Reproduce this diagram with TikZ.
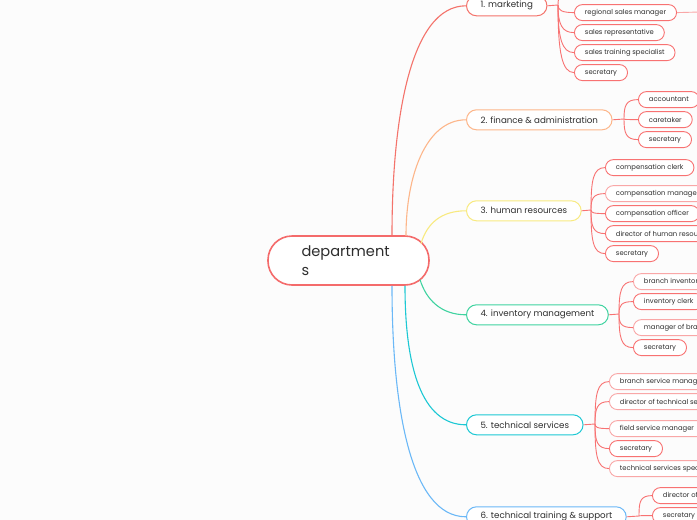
\documentclass[tikz,border=0pt]{standalone}
\usepackage{fontspec}
\setmainfont{Poppins}
\usetikzlibrary{calc}

\definecolor{rootred}{HTML}{F46B6B}
\definecolor{leafred}{HTML}{F87272}
\definecolor{leafpink}{HTML}{F9A7A7}
\definecolor{mktcol}{HTML}{F4736B}
\definecolor{fincol}{HTML}{FDB68A}
\definecolor{hrcol}{HTML}{F8EA80}
\definecolor{invcol}{HTML}{3FD3A0}
\definecolor{techcol}{HTML}{1CC8D4}
\definecolor{traincol}{HTML}{6BB8F7}
\definecolor{inkgrey}{HTML}{2E2E2E}

\begin{document}
\begin{tikzpicture}[
    x=1pt, y=-1pt, % pixel grid, y downwards
    root/.style={draw=rootred, line width=1.6pt, rounded corners=24pt,
        minimum width=161pt, minimum height=49pt, fill=white, inner sep=0pt,
        text width=94pt, align=left, text=inkgrey,
        font=\fontsize{14.6}{19.5}\selectfont},
    topic/.style={draw=#1, line width=1pt, rounded corners=10pt,
        minimum height=20pt, inner xsep=14pt, inner ysep=0pt, fill=white,
        anchor=west, text=inkgrey, yshift=-0.8pt,
        font=\fontsize{8.7}{9}\selectfont},
    leaf/.style={draw=leafred, line width=0.9pt, rounded corners=8pt,
        minimum height=16pt, inner xsep=10.5pt, inner ysep=0pt, fill=white,
        anchor=west, text=inkgrey, yshift=-0.6pt,
        font=\fontsize{6.8}{7}\selectfont},
    faded/.style={draw=leafpink},
    branch/.style={draw=#1, line width=1.1pt},
    twig/.style={draw=leafred, line width=0.9pt},
    twigto/.style={to path={.. controls
        ($(\tikztostart)!0.7!(\tikztostart |- \tikztotarget)$) and
        ($(\tikztotarget)+(-12,0)$) .. (\tikztotarget)}}
]

\useasboundingbox (0,0) rectangle (697,520);
\clip (0,0) rectangle (697,520);
\fill[white!99!black] (0,0) rectangle (697,520);

% ========== root ==========
\node[root] (root) at (348.5,260.5) {department\\s};

% ========== main topics ==========
\node[topic=mktcol]   (mkt)   at (466,5)   {1. marketing};
\node[topic=fincol]   (fin)   at (466,119) {2. finance \& administration};
\node[topic=hrcol]    (hr)    at (466,210) {3. human resources};
\node[topic=invcol]   (inv)   at (466,314) {4. inventory management};
\node[topic=techcol]  (tech)  at (466,424) {5. technical services};
\node[topic=traincol] (train) at (466,516) {6. technical training \& support};

% start points on the root border
\coordinate (s1) at ($(root.north)+(43.5,0)$);
\coordinate (s2) at ($(root.north)+(57.5,0.5)$);
\coordinate (s3) at ($(root.center)+(72.5,-17)$);
\coordinate (s4) at ($(root.center)+(71.5,19)$);
\coordinate (s5) at ($(root.south)+(56.5,0)$);
\coordinate (s6) at ($(root.south)+(43.5,0)$);

\draw[branch=mktcol]   (s1) .. controls +(0,-115) and +(-56,0) .. (mkt.west);
\draw[branch=fincol]   (s2) .. controls +(0,-60) and +(-40,0) .. (fin.west);
\draw[branch=hrcol]    (s3) .. controls +(6,-20) and +(-25,0) .. (hr.west);
\draw[branch=invcol]   (s4) .. controls +(6,20) and +(-25,0) .. (inv.west);
\draw[branch=techcol]  (s5) .. controls +(0,80) and +(-45,0) .. (tech.west);
\draw[branch=traincol] (s6) .. controls +(0,120) and +(-56,0) .. (train.west);

% ========== marketing ==========
\coordinate (mktfork) at (558,5);
\coordinate (mktup) at (574,-10);
\node[leaf] (mkt1) at (574,12) {regional sales manager};
\node[leaf] (mkt2) at (574,32) {sales representative};
\node[leaf] (mkt3) at (574,52) {sales training specialist};
\node[leaf] (mkt4) at (574,72) {secretary};
\coordinate (mktout) at (700,12);
\draw[twig] (mkt.east) -- (mktfork);
\foreach \n in {mktup,mkt1.west,mkt2.west,mkt3.west,mkt4.west}
    \draw[twig] (mktfork) to[twigto] (\n);
\draw[twig, draw=leafpink] (mkt1.east) -- (mktout);

% ========== finance & administration ==========
\coordinate (finfork) at (624,119);
\node[leaf] (fin1) at (638,99)  {accountant};
\node[leaf] (fin2) at (638,119) {caretaker};
\node[leaf] (fin3) at (638,139) {secretary};
\draw[twig] (fin.east) -- (finfork);
\foreach \n in {fin1,fin2,fin3}
    \draw[twig] (finfork) to[twigto] (\n.west);

% ========== human resources ==========
\coordinate (hrfork) at (591,210);
\node[leaf]        (hr1) at (605,167) {compensation clerk};
\node[leaf,faded]  (hr2) at (605,193) {compensation manager};
\node[leaf]        (hr3) at (605,213) {compensation officer};
\node[leaf]        (hr4) at (605,233) {director of human resources};
\node[leaf]        (hr5) at (605,253) {secretary};
\draw[twig] (hr.east) -- (hrfork);
\foreach \n in {hr1,hr2,hr3,hr4,hr5}
    \draw[twig] (hrfork) to[twigto] (\n.west);

% ========== inventory management ==========
\coordinate (invfork) at (619,314);
\node[leaf,faded] (inv1) at (633,281) {branch inventory manager};
\node[leaf]       (inv2) at (633,301) {inventory clerk};
\node[leaf,faded] (inv3) at (633,327) {manager of branch inventory};
\node[leaf]       (inv4) at (633,347) {secretary};
\draw[twig] (inv.east) -- (invfork);
\foreach \n in {inv1,inv2,inv3,inv4}
    \draw[twig] (invfork) to[twigto] (\n.west);

% ========== technical services ==========
\coordinate (techfork) at (595,424);
\node[leaf,faded] (tech1) at (609,381) {branch service manager};
\node[leaf,faded] (tech2) at (609,401) {director of technical services};
\node[leaf,faded] (tech3) at (609,428) {field service manager};
\node[leaf]       (tech4) at (609,448) {secretary};
\node[leaf,faded] (tech5) at (609,468) {technical services specialist};
\draw[twig] (tech.east) -- (techfork);
\foreach \n in {tech1,tech2,tech3,tech4,tech5}
    \draw[twig] (techfork) to[twigto] (\n.west);

% ========== technical training & support ==========
\coordinate (trainfork) at (639,516);
\node[leaf] (train1) at (652,495) {director of training};
\node[leaf] (train2) at (652,515) {secretary};
\draw[twig] (train.east) -- (trainfork);
\foreach \n in {train1,train2}
    \draw[twig] (trainfork) to[twigto] (\n.west);

\end{tikzpicture}
\end{document}
